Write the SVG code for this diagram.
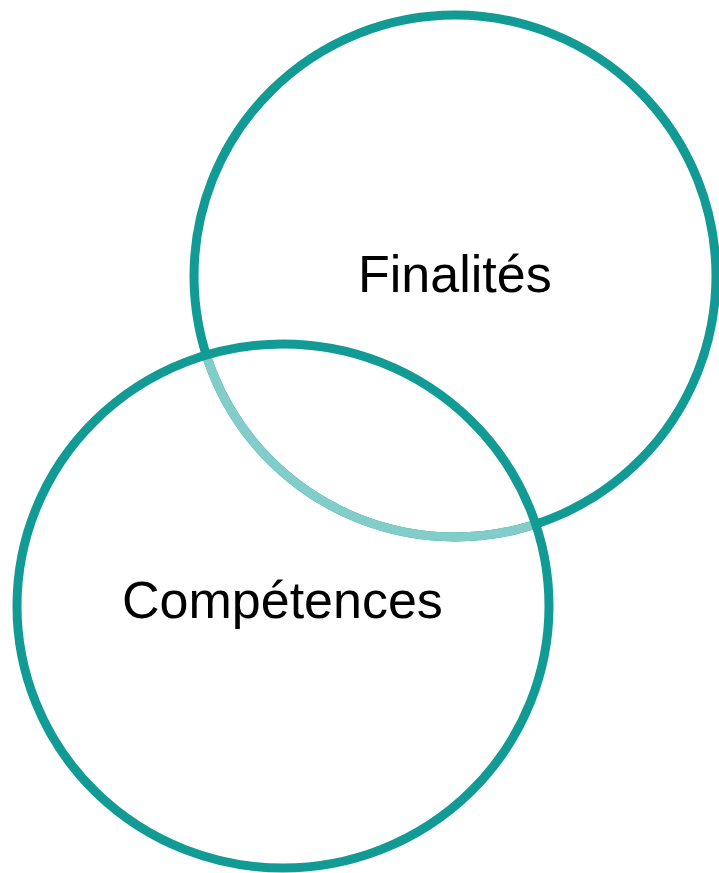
<svg xmlns="http://www.w3.org/2000/svg" width="719" height="873" viewBox="0 0 719 873">
<style>
.dark{fill:none;stroke:#129A95;stroke-width:9}
.light{fill:none;stroke:#82CDC9;stroke-width:9}
.lbl{font-family:"Liberation Sans",Arial,sans-serif;font-size:52px;fill:#000}
</style>
<defs>
<clipPath id="inBottom"><ellipse cx="283" cy="606" rx="266" ry="262"/></clipPath>
</defs>
<rect width="719" height="873" fill="#fff"/>
<g id="finalites">
<circle class="dark" cx="455" cy="276" r="261"/>
<circle class="light" cx="455" cy="276" r="261" clip-path="url(#inBottom)"/>
<text class="lbl" x="358" y="292">Finalités</text>
</g>
<g id="competences">
<ellipse class="dark" cx="283" cy="606" rx="266" ry="262"/>
<text class="lbl" x="122" y="618">Compétences</text>
</g>
<g id="connectors"/>
</svg>
